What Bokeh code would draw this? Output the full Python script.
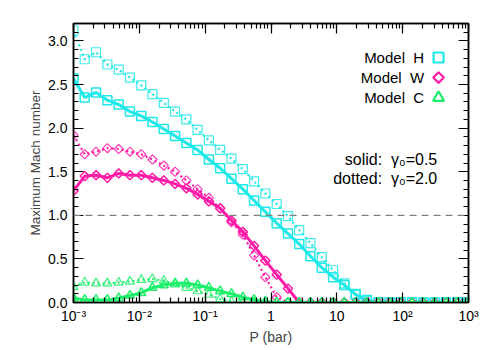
import math
from bokeh.plotting import figure
from bokeh.models import (Range1d, LogAxis, LinearAxis, LogTicker, SingleIntervalTicker,
                          CustomJSTickFormatter, PrintfTickFormatter, Span, Label,
                          ColumnDataSource)
from bokeh.embed import file_html
from bokeh.resources import INLINE

# ---------------- data ----------------
pressure = [0.001, 0.00148, 0.00220, 0.00327, 0.00486, 0.00720, 0.0107, 0.0158, 0.0235,
            0.0349, 0.0518, 0.0768, 0.114, 0.169, 0.251, 0.373, 0.553, 0.821, 1.22,
            1.81, 2.68, 3.98, 5.91, 8.77, 13.0, 19.3, 28.6, 42.5, 63.1, 93.6, 139.0,
            206.0, 306.0, 454.0, 675.0, 1000.0]

h_solid = [2.57, 2.35, 2.41, 2.32, 2.27, 2.19, 2.14, 2.07, 1.99, 1.91, 1.83, 1.75,
           1.64, 1.54, 1.42, 1.30, 1.17, 1.04, 0.91, 0.79, 0.67, 0.53, 0.40, 0.29,
           0.20, 0.09, 0.03, 0.0, 0.0, 0.0, 0.0, 0.0, 0.0, 0.0, 0.0, 0.0]
h_dotted = [3.12, 2.79, 2.87, 2.73, 2.67, 2.58, 2.49, 2.39, 2.29, 2.19, 2.10, 1.98,
            1.86, 1.75, 1.65, 1.53, 1.39, 1.25, 1.13, 0.99, 0.83, 0.68, 0.52, 0.37,
            0.22, 0.10, 0.02, 0.0, 0.0, 0.0, 0.0, 0.0, 0.0, 0.0, 0.0, 0.0]
w_solid = [1.28, 1.45, 1.46, 1.43, 1.48, 1.46, 1.46, 1.43, 1.40, 1.36, 1.31, 1.24,
           1.16, 1.08, 0.94, 0.81, 0.65, 0.48, 0.32, 0.16, 0.0, 0.0, 0.0, 0.0,
           0.0, 0.0, 0.0, 0.0, 0.0, 0.0, 0.0, 0.0, 0.0, 0.0, 0.0, 0.0]
w_dotted = [1.92, 1.70, 1.73, 1.77, 1.76, 1.73, 1.70, 1.64, 1.57, 1.50, 1.40, 1.30,
            1.20, 1.08, 0.92, 0.78, 0.54, 0.29, 0.06, 0.0, 0.0, 0.0, 0.0, 0.0,
            0.0, 0.0, 0.0, 0.0, 0.0, 0.0, 0.0, 0.0, 0.0, 0.0, 0.0, 0.0]
c_solid = [0.05, 0.03, 0.03, 0.03, 0.05, 0.08, 0.11, 0.17, 0.20, 0.22, 0.22, 0.20,
           0.17, 0.13, 0.10, 0.06, 0.03, 0.01, 0.0, 0.0, 0.0, 0.0, 0.0, 0.0,
           0.0, 0.0, 0.0, 0.0, 0.0, 0.0, 0.0, 0.0, 0.0, 0.0, 0.0, 0.0]
c_dotted = [0.18, 0.23, 0.22, 0.22, 0.23, 0.24, 0.26, 0.27, 0.25, 0.21, 0.17, 0.13,
            0.09, 0.04, 0.01, 0.0, 0.0, 0.0, 0.0, 0.0, 0.0, 0.0, 0.0, 0.0,
            0.0, 0.0, 0.0, 0.0, 0.0, 0.0, 0.0, 0.0, 0.0, 0.0, 0.0, 0.0]

model_names = ["Model\u00a0\u00a0H", "Model\u00a0\u00a0W", "Model\u00a0\u00a0C"]
gamma_notes = ["solid:\u00a0\u00a0\u03b3\u2080=0.5", "dotted:\u00a0\u00a0\u03b3\u2080=2.0"]
threshold = 1.0

CYAN = "#1fe8e8"
MAGENTA = "#ff1aa8"
GREEN = "#1cf06a"
FONT = "Liberation Sans"

p = figure(width=486, height=348, x_axis_type="log",
           x_range=Range1d(1e-3, 1e3), y_range=Range1d(0, 3.2),
           output_backend="svg", toolbar_location=None,
           min_border_left=73, min_border_right=18, min_border_top=23, min_border_bottom=46)
p.xgrid.visible = False
p.ygrid.visible = False
p.outline_line_color = "black"
p.outline_line_width = 1.5
p.background_fill_color = "white"
p.border_fill_color = "white"

# ---------------- axes ----------------
xfmt = CustomJSTickFormatter(code="""
const e = Math.round(Math.log10(tick));
const sup = {'-': '\\u207b', '0': '\\u2070', '1': '\\u00b9', '2': '\\u00b2', '3': '\\u00b3'};
if (e == 0) { return '1'; }
if (e == 1) { return '10'; }
let s = '10';
for (const c of String(e)) { s += sup[c]; }
return s;
""")
blank = CustomJSTickFormatter(code="return '';")

def style_axis(ax):
    ax.axis_line_width = 1.5
    ax.axis_line_color = "black"
    ax.major_tick_in = 10
    ax.major_tick_out = 0
    ax.minor_tick_in = 5
    ax.minor_tick_out = 0
    ax.major_tick_line_color = "black"
    ax.minor_tick_line_color = "black"
    ax.major_tick_line_width = 1.2
    ax.minor_tick_line_width = 1.2
    ax.major_label_text_font = FONT
    ax.major_label_text_color = "black"
    ax.major_label_text_font_size = "14px"

xa = p.xaxis[0]
xa.ticker = LogTicker(num_minor_ticks=10)
xa.formatter = xfmt
style_axis(xa)
xa.major_label_standoff = 5
xa.axis_label = "P (bar)"
xa.axis_label_text_font = FONT
xa.axis_label_text_font_style = "normal"
xa.axis_label_text_font_size = "14px"
xa.axis_label_standoff = 2

ya = p.yaxis[0]
ya.ticker = SingleIntervalTicker(interval=0.5, num_minor_ticks=5)
ya.formatter = PrintfTickFormatter(format="%.1f")
style_axis(ya)
ya.major_label_standoff = 6
ya.axis_label = "Maximum Mach number"
ya.axis_label_text_font = FONT
ya.axis_label_text_font_style = "normal"
ya.axis_label_text_font_size = "13.5px"
ya.axis_label_standoff = 2

top = LogAxis(ticker=LogTicker(num_minor_ticks=10), formatter=blank)
style_axis(top)
top.major_label_standoff = 0
p.add_layout(top, "above")
right = LinearAxis(ticker=SingleIntervalTicker(interval=0.5, num_minor_ticks=5), formatter=blank)
style_axis(right)
right.major_label_standoff = 0
p.add_layout(right, "right")

# ---------------- reference line ----------------
p.add_layout(Span(location=threshold, dimension="width", line_color="#808080",
                  line_width=1.2, line_dash="7 5"))

# ---------------- series ----------------
src = ColumnDataSource(dict(x=pressure, hs=h_solid, hd=h_dotted, ws=w_solid,
                            wd=w_dotted, cs=c_solid, cd=c_dotted))

series = [("hs", "hd", CYAN, "square", 0, 9),
          ("ws", "wd", MAGENTA, "square", math.pi / 4, 6.5),
          ("cs", "cd", GREEN, "triangle", 0, 9)]

for s_col, d_col, color, marker, ang, size in series:
    p.line("x", d_col, source=src, line_color=color, line_width=2.2, line_dash="2 3")
    p.scatter("x", d_col, source=src, marker=marker, angle=ang, size=size,
              line_color=color, line_width=1.2, fill_color=None, line_alpha=0.85)
    p.line("x", s_col, source=src, line_color=color, line_width=3)
    p.scatter("x", s_col, source=src, marker=marker, angle=ang, size=size,
              line_color=color, line_width=1.5, fill_color=None)

# ---------------- legend (text with marker to its right) ----------------
leg_y = [2.81, 2.58, 2.35]
leg_colors = [CYAN, MAGENTA, GREEN]
leg_markers = [("square", 0, 10), ("square", math.pi / 4, 7.5), ("triangle", 0, 11)]
for name, yy, col, (mk, ang, sz) in zip(model_names, leg_y, leg_colors, leg_markers):
    p.add_layout(Label(x=212, y=yy, text=name, text_align="right", text_baseline="middle",
                       text_font=FONT, text_font_size="15px", text_color="black"))
    p.scatter(x=[351], y=[yy], marker=mk, angle=ang, size=sz, line_color=col,
              line_width=2.2, fill_color=None)

for note, yy in zip(gamma_notes, [1.64, 1.42]):
    p.add_layout(Label(x=335, y=yy, text=note, text_align="right", text_baseline="middle",
                       text_font=FONT, text_font_size="16px", text_color="black"))

with open("out.html", "w", encoding="utf-8") as f:
    f.write(file_html(p, INLINE))
